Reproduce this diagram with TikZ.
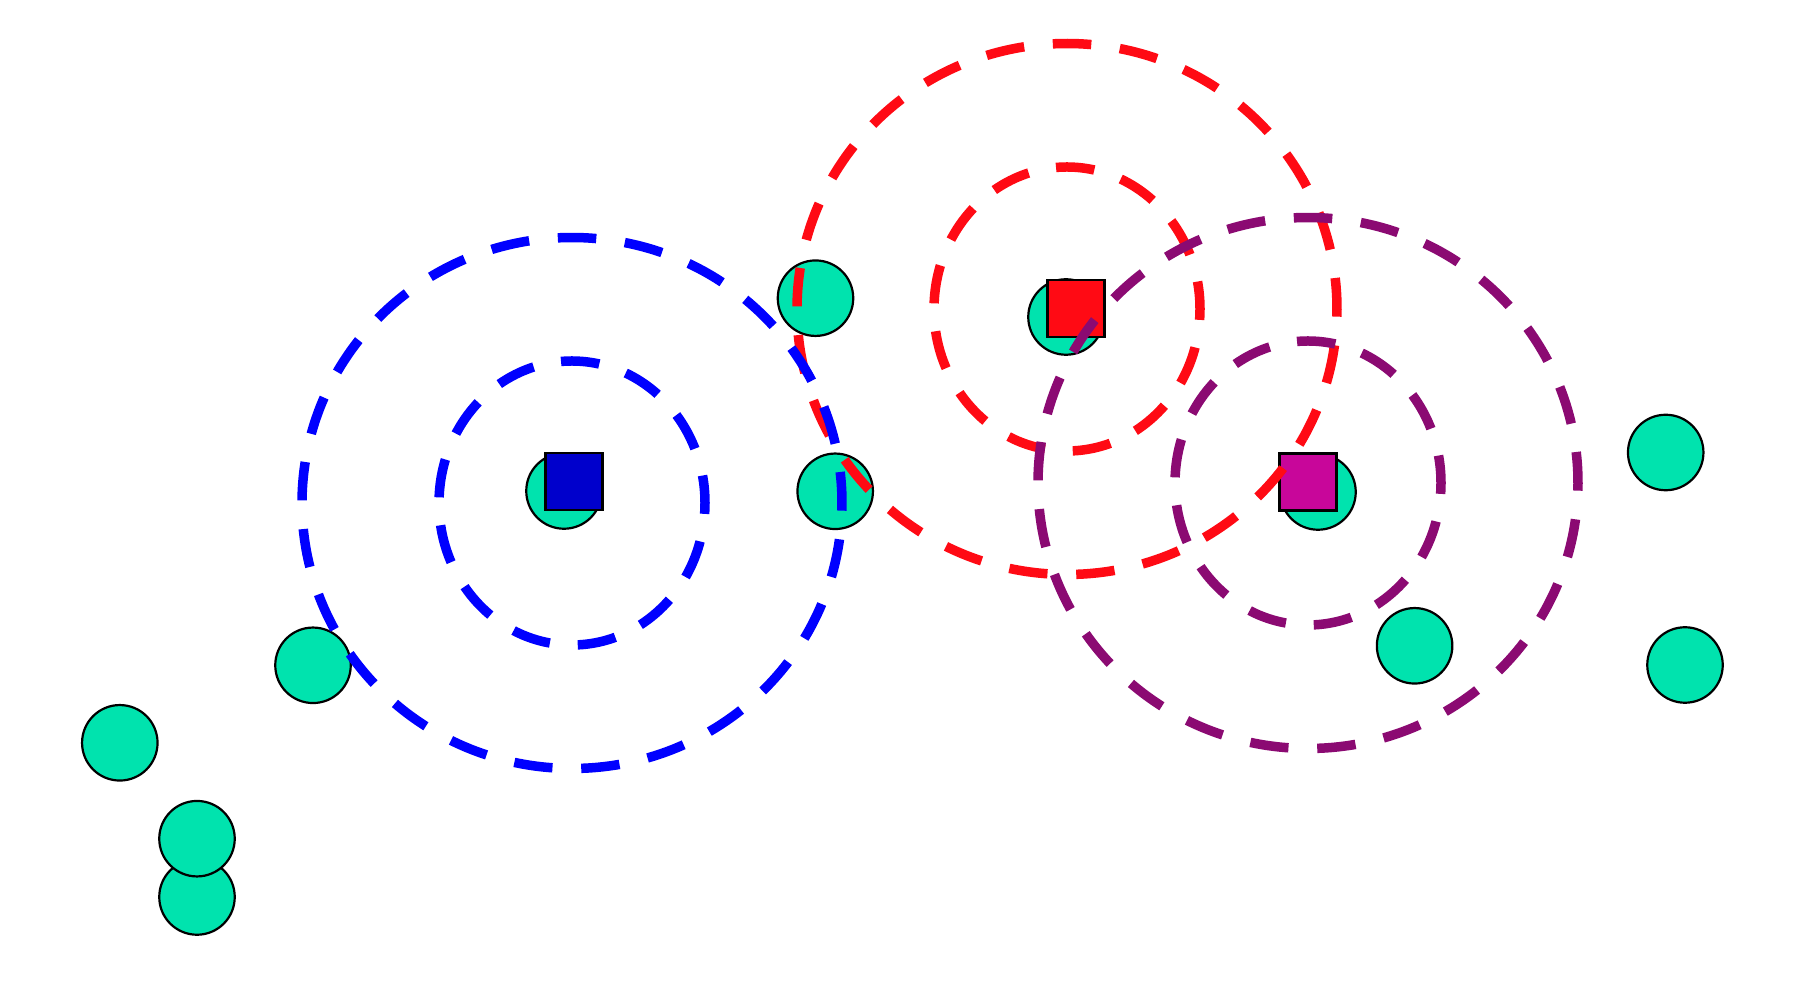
\documentclass[tikz,border=0pt]{standalone}
\definecolor{nodegreen}{RGB}{0,227,174}
\definecolor{sqblue}{RGB}{0,0,204}
\definecolor{sqred}{RGB}{255,10,20}
\definecolor{sqpurple}{RGB}{200,6,154}
\definecolor{ringblue}{RGB}{0,0,255}
\definecolor{ringred}{RGB}{255,10,20}
\definecolor{ringpurple}{RGB}{139,10,114}
\begin{document}
\begin{tikzpicture}[x=1pt,y=1pt,
  dot/.style={circle, draw=black, line width=2.2pt, fill=nodegreen, minimum size=75.5pt, inner sep=0pt},
  sq/.style={rectangle, draw=black, line width=2.2pt, minimum size=57pt, inner sep=0pt},
  outerring/.style={line width=9.5pt, dash pattern=on 38.5pt off 28.79pt},
  innerring/.style={line width=9.5pt, dash pattern=on 38.5pt off 27.98pt}]
\fill[white] (0,0) rectangle (1808,998);
\useasboundingbox (0,0) rectangle (1808,998);
% green nodes
\node[dot] (g1) at (564,507) {};
\node[dot] (g2) at (1066,681) {};
\node[dot] (g3) at (1318,506) {};
\node[dot] (g4) at (815.5,699.8) {};
\node[dot] (g5) at (835.2,506.7) {};
\node[dot] (g6) at (313,332.7) {};
\node[dot] (g7) at (119.8,255.2) {};
\node[dot] (g8) at (197,101) {};
\node[dot] (g9) at (197,159.3) {};
\node[dot] (g10) at (1665.7,545.5) {};
\node[dot] (g11) at (1685,333) {};
\node[dot] (g12) at (1414.6,352.2) {};
% squares
\node[sq, fill=sqblue] (bs) at (574,516.3) {};
\node[sq, fill=sqred] (rs) at (1076,689.5) {};
\node[sq, fill=sqpurple] (ps) at (1308,516) {};
% ring centres
\coordinate (bc) at (572,495);
\coordinate (rc) at (1067,689);
\coordinate (pc) at (1308,515);
% red rings
\draw[outerring, ringred] (rc) ++(-1.6:270pt and 265.5pt) arc[start angle=-1.6, end angle=358.4, x radius=270pt, y radius=265.5pt];
\draw[innerring, ringred] (rc) ++(-4.4:133pt and 142pt) arc[start angle=-4.4, end angle=355.6, x radius=133pt, y radius=142pt];
% blue rings
\draw[outerring, ringblue] (bc) ++(-1.6:270pt and 265.5pt) arc[start angle=-1.6, end angle=358.4, x radius=270pt, y radius=265.5pt];
\draw[innerring, ringblue] (bc) ++(-4.4:133pt and 142pt) arc[start angle=-4.4, end angle=355.6, x radius=133pt, y radius=142pt];
% purple rings
\draw[outerring, ringpurple] (pc) ++(-1.6:270pt and 265.5pt) arc[start angle=-1.6, end angle=358.4, x radius=270pt, y radius=265.5pt];
\draw[innerring, ringpurple] (pc) ++(-4.4:133pt and 142pt) arc[start angle=-4.4, end angle=355.6, x radius=133pt, y radius=142pt];
\end{tikzpicture}
\end{document}
